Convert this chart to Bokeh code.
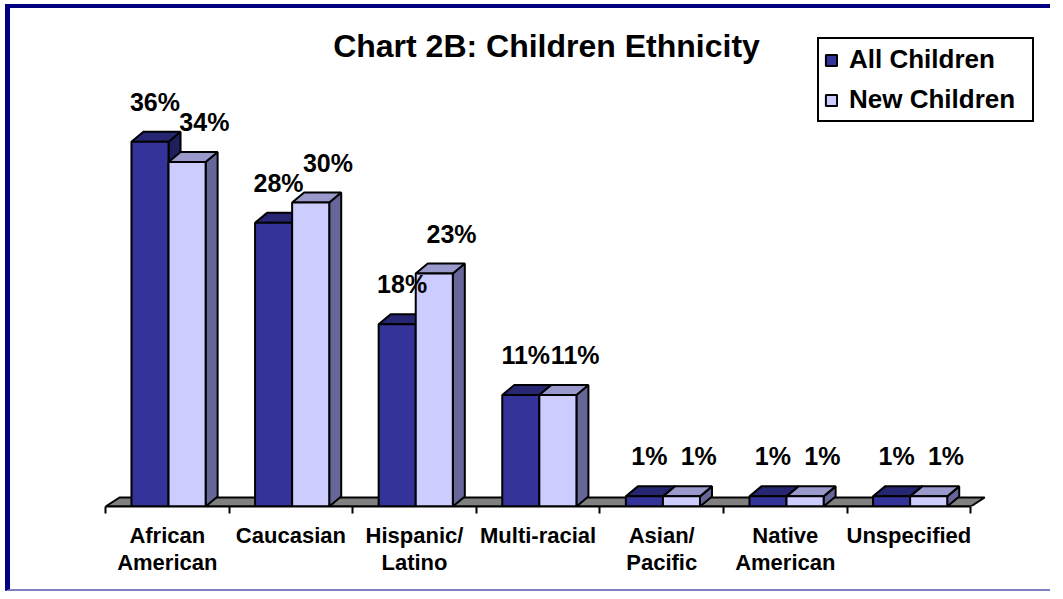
from bokeh.plotting import figure
from bokeh.models import Range1d, FixedTicker, Legend, LegendItem, ColumnDataSource, Label
from bokeh.core.properties import value
from bokeh.embed import file_html
from bokeh.resources import INLINE

# ---- data ----
categories = ["African American", "Caucasian", "Hispanic/Latino", "Multi-racial",
              "Asian/Pacific", "Native American", "Unspecified"]
tick_labels = ["African\nAmerican", "Caucasian", "Hispanic/\nLatino", "Multi-racial",
               "Asian/\nPacific", "Native\nAmerican", "Unspecified"]
all_children = [36, 28, 18, 11, 1, 1, 1]
new_children = [34, 30, 23, 11, 1, 1, 1]
series_names = ["All Children", "New Children"]
title_text = "Chart 2B: Children Ethnicity"

# ---- styling ----
FONT = "Liberation Sans"
PX_X = 123.6      # pixels per category
PX_Y = 10.13      # pixels per percent
DX = 12 / PX_X    # 3D depth offset (x)
DY = 10 / PX_Y    # 3D depth offset (y)
FDX = 14 / PX_X
FDY = 9 / PX_Y
BW = 0.30
DARK = dict(front="#333399", top="#262673", side="#1F1F5C")
LIGHT = dict(front="#CCCCFF", top="#9999CC", side="#666699")

FRAME_H = 498
n = len(categories)
p = figure(width=1045, height=FRAME_H + 89,
           x_range=Range1d(0, 940 / PX_X), y_range=Range1d(0, FRAME_H / PX_Y),
           output_backend="svg", toolbar_location=None,
           min_border_left=95, min_border_right=10, min_border_top=0, min_border_bottom=89)
p.styles = {"margin-left": "5px", "margin-top": "4px",
            "border-top": "4px solid #000080", "border-left": "5px solid #000080",
            "border-bottom": "2px solid #8080C0"}
p.grid.visible = False
p.outline_line_color = None
p.yaxis.visible = False
p.background_fill_color = "white"

# floor
p.patch([0, n, n + FDX, FDX], [0, 0, FDY, FDY], fill_color="#808080",
        line_color="black", line_width=2)


def draw_series(offset, vals, col):
    lefts = [i + offset for i in range(n)]
    rights = [x + BW for x in lefts]
    top_xs, top_ys, side_xs, side_ys = [], [], [], []
    for x0, x1, h in zip(lefts, rights, vals):
        top_xs.append([x0, x1, x1 + DX, x0 + DX])
        top_ys.append([h, h, h + DY, h + DY])
        side_xs.append([x1, x1 + DX, x1 + DX, x1])
        side_ys.append([0, DY, h + DY, h])
    p.patches(side_xs, side_ys, fill_color=col["side"], line_color="black", line_width=2)
    p.patches(top_xs, top_ys, fill_color=col["top"], line_color="black", line_width=2)
    src = ColumnDataSource(dict(left=lefts, right=rights, top=vals, bottom=[0] * n))
    return p.quad(left="left", right="right", top="top", bottom="bottom", source=src,
                  fill_color=col["front"], line_color="black", line_width=2)


r_all = draw_series(0.21, all_children, DARK)
r_new = draw_series(0.51, new_children, LIGHT)

# value labels
LAB_OFF = 40 / PX_Y
lab_src = ColumnDataSource(dict(
    x=[i + 0.40 for i in range(n)] + [i + 0.80 for i in range(n)],
    y=[v + LAB_OFF for v in all_children] + [v + LAB_OFF for v in new_children],
    text=[f"{v}%" for v in all_children] + [f"{v}%" for v in new_children]))
p.text(x="x", y="y", text="text", source=lab_src, text_align="center",
       text_baseline="alphabetic", text_font=value(FONT), text_font_style="bold",
       text_font_size="25px", text_color="black")

# title
p.add_layout(Label(x=441 / PX_X, y=461 / PX_Y, text=title_text, text_align="center",
                   text_baseline="middle", text_font=FONT, text_font_style="bold",
                   text_font_size="32px", text_color="black"))

# x axis
ax = p.xaxis[0]
ax.ticker = FixedTicker(ticks=[i + 0.5 for i in range(n)], minor_ticks=list(range(n + 1)))
ax.major_label_overrides = {i + 0.5: lab for i, lab in enumerate(tick_labels)}
ax.bounds = (0, n)
ax.major_tick_out = 0
ax.major_tick_in = 0
ax.minor_tick_out = 7
ax.minor_tick_in = 0
ax.minor_tick_line_color = "black"
ax.minor_tick_line_width = 2
ax.axis_line_color = "black"
ax.axis_line_width = 2
ax.major_label_standoff = 9
ax.major_label_text_font = FONT
ax.major_label_text_font_style = "bold"
ax.major_label_text_font_size = "22px"
ax.major_label_text_color = "black"
ax.major_label_text_line_height = 1.1

# legend
legend = Legend(items=[LegendItem(label=series_names[0], renderers=[r_all]),
                       LegendItem(label=series_names[1], renderers=[r_new])],
                location=(712, 384), border_line_color="black", border_line_width=2,
                border_line_alpha=1.0,
                label_text_font=FONT, label_text_font_style="bold",
                label_text_font_size="26px", label_text_color="black",
                label_height=27, label_width=178, glyph_width=14, glyph_height=14,
                label_standoff=11, padding=5, spacing=9, margin=0,
                background_fill_color="white", background_fill_alpha=1.0)
p.add_layout(legend, "center")

open("out.html", "w").write(file_html(p, INLINE))
